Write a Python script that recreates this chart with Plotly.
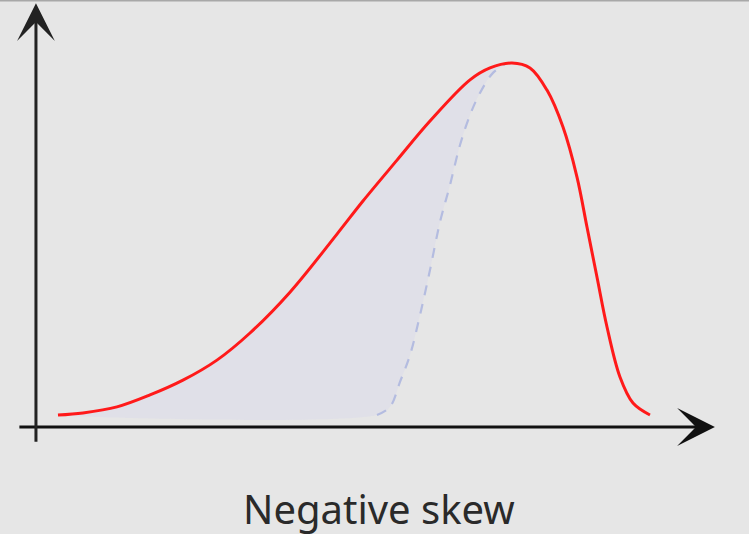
import plotly.graph_objects as go

# Red density curve (negative skew), x in arbitrary units, y normalized density
red_x = [0.355, 0.758, 1.306, 1.839, 2.371, 2.919, 3.452, 4.097, 4.855, 5.274, 5.823, 6.355,
         7.000, 7.323, 7.677, 7.968, 8.242, 8.500, 8.726, 8.887, 9.048, 9.210, 9.419, 9.629,
         9.903]
red_y = [0.000, 0.006, 0.023, 0.057, 0.099, 0.156, 0.233, 0.349, 0.514, 0.608, 0.724, 0.835,
         0.952, 0.986, 1.000, 0.986, 0.923, 0.818, 0.676, 0.534, 0.392, 0.250, 0.108, 0.034,
         0.000]

# Dashed reference curve (mirror of the right tail)
dash_x = [5.500, 5.710, 5.871, 6.032, 6.194, 6.355, 6.516, 6.677, 6.839, 7.000, 7.161, 7.371, 7.565]
dash_y = [0.000, 0.023, 0.094, 0.170, 0.284, 0.412, 0.548, 0.653, 0.767, 0.852, 0.915, 0.972, 0.997]

label = "Negative skew"

# Shaded area: under left part of red curve, bounded on the right by the dashed curve
left_x = [x for x in red_x if x <= dash_x[-1]]
left_y = red_y[:len(left_x)]
fill_x = left_x + dash_x[::-1] + [red_x[0]]
fill_y = left_y + dash_y[::-1] + [red_y[0]]

fig = go.Figure()
fig.add_trace(go.Scatter(x=fill_x, y=fill_y, fill="toself", mode="lines",
                         line=dict(width=0, color="rgba(0,0,0,0)", shape="spline", smoothing=1),
                         fillcolor="#e0e0e8", hoverinfo="skip", showlegend=False))
fig.add_trace(go.Scatter(x=dash_x, y=dash_y, mode="lines",
                         line=dict(color="#b4bce0", width=2.2, dash="10px,9px",
                                   shape="spline", smoothing=1),
                         showlegend=False))
fig.add_trace(go.Scatter(x=red_x, y=red_y, mode="lines",
                         line=dict(color="#ff1a1a", width=3, shape="spline", smoothing=1),
                         showlegend=False))

axis_y = -0.034
# x axis arrow
fig.add_annotation(x=10.95, y=axis_y, ax=-697, ay=0, axref="pixel", ayref="pixel",
                   showarrow=True, arrowhead=3, arrowsize=2.1, arrowwidth=3,
                   arrowcolor="#111111", text="", standoff=0)
# y axis arrow
fig.add_annotation(x=0, y=1.17, ax=0, ay=440, axref="pixel", ayref="pixel",
                   showarrow=True, arrowhead=3, arrowsize=2.1, arrowwidth=3,
                   arrowcolor="#222222", text="", standoff=0)

fig.add_annotation(x=0.506, y=0.048, xref="paper", yref="paper", text=label,
                   showarrow=False, xanchor="center", yanchor="middle",
                   font=dict(family="Noto Sans", size=40, color="#2a2a2a"))

fig.add_shape(type="line", xref="paper", yref="paper", x0=0, x1=1, y0=1, y1=1,
              line=dict(color="#a8a8a8", width=3))

fig.update_layout(width=749, height=534, margin=dict(l=0, r=0, t=0, b=0),
                  paper_bgcolor="#e6e6e6", plot_bgcolor="#e6e6e6",
                  xaxis=dict(range=[-0.58, 11.5], visible=False, fixedrange=True),
                  yaxis=dict(range=[-0.338, 1.179], visible=False, fixedrange=True))

fig.write_html("out.html", config={"displayModeBar": False},
               post_script="document.body.style.margin='0';document.body.style.overflow='hidden';")
